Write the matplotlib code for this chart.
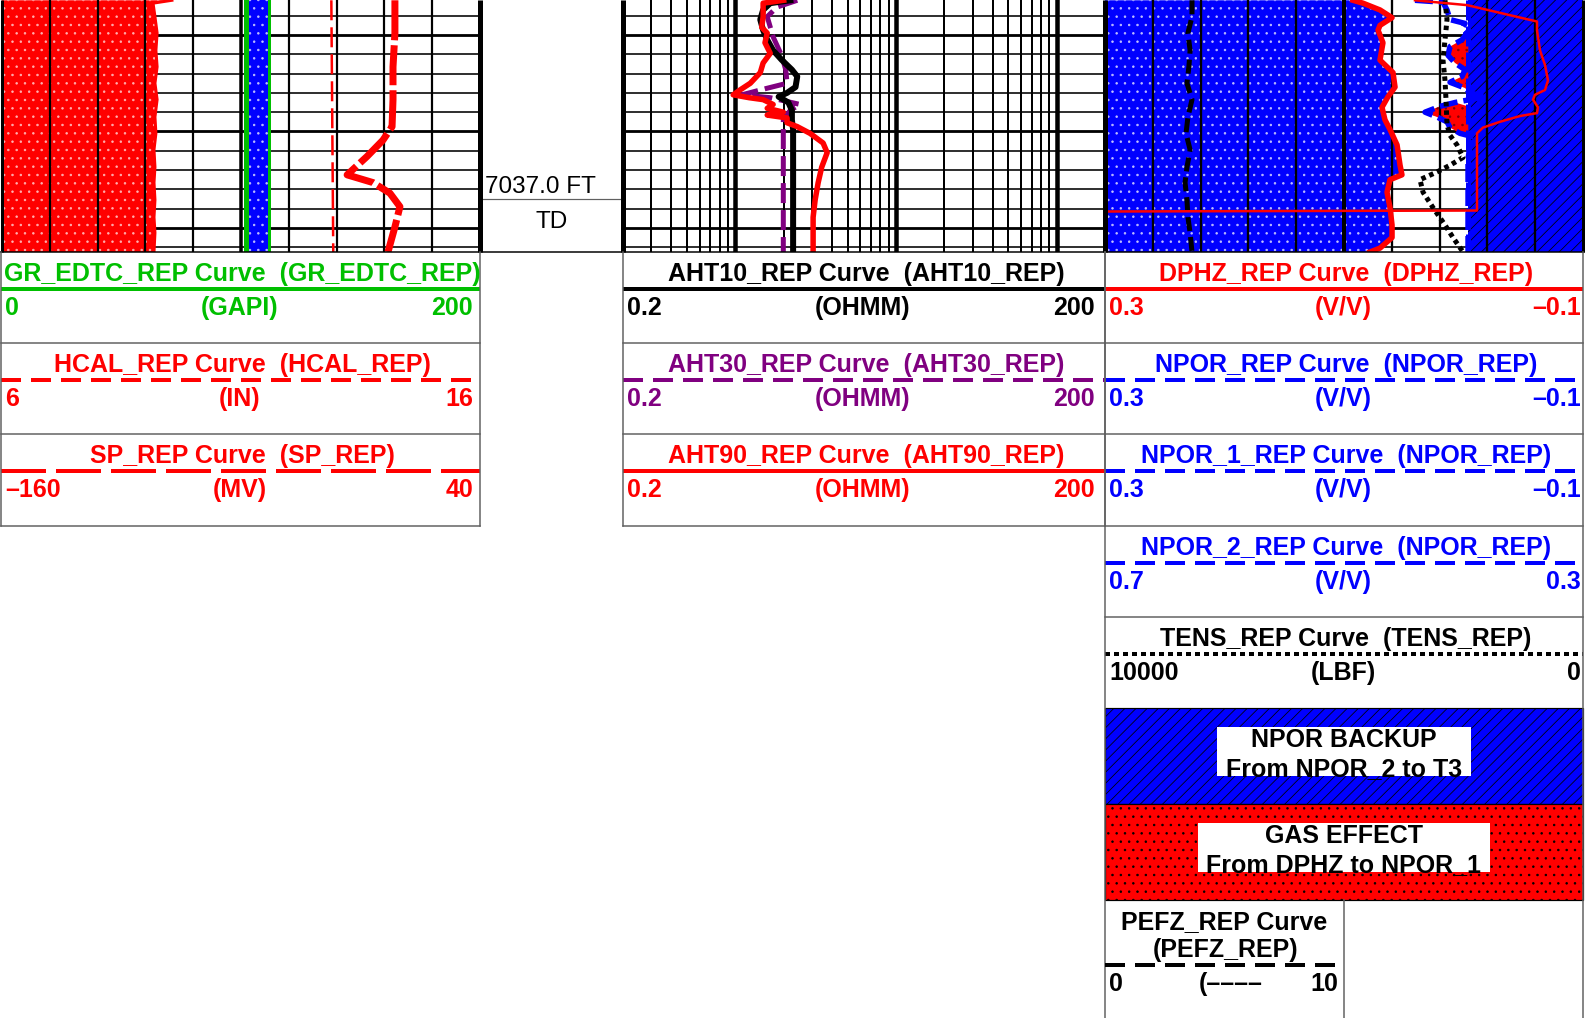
import matplotlib.pyplot as plt
from matplotlib.patches import Rectangle
import numpy as np

plt.rcParams['font.family'] = ['Liberation Sans', 'DejaVu Sans']
plt.rcParams['lines.scale_dashes'] = False
plt.rcParams['hatch.linewidth'] = 0.55

W, H = 1596, 1018
TOP, BOT = 7016.37, 7042.5
TD = 7037.0

GREEN = '#00bf00'
RED = '#ff0000'
BLUE = '#0000ff'
PURPLE = '#800080'
GREY = '#606060'

# ---------------- track 1 (GR scale 0-200) ----------------
shade_depth = [7016.4, 7016.7, 7018.1, 7019.8, 7021.6, 7023.3, 7025.0, 7026.7, 7028.5,
               7030.2, 7031.9, 7033.7, 7035.3, 7037.1, 7038.9, 7040.5, 7042.5]
shade_gr = [71.1, 63.2, 64.0, 64.9, 64.4, 64.9, 64.0, 64.9, 64.0,
            64.4, 63.6, 64.0, 63.6, 64.0, 63.6, 64.0, 63.6]

gr_depth = [7016.4, 7042.5]
gr = [102.0, 102.0]
gr_base = [111.7, 111.7]

hcal_depth = [7016.4, 7042.5]
hcal = [12.89, 12.93]

sp_depth = [7016.4, 7019.8, 7023.3, 7026.7, 7029.5, 7030.9, 7032.6, 7034.5, 7035.3,
            7036.4, 7037.8, 7039.9, 7042.5]
sp = [4.4, 4.4, 3.6, 3.6, 3.2, -0.6, -7.3, -15.6, -4.8, 2.3, 6.5, 4.4, 1.5]

# ---------------- track 2 (resistivity, log 0.2-200) ----------------
aht10_depth = [7016.4, 7016.7, 7017.4, 7018.4, 7019.5, 7020.5, 7021.6, 7022.6, 7023.6,
               7024.3, 7025.4, 7026.0, 7026.4, 7027.0, 7027.8, 7028.8, 7029.8, 7042.5]
aht10 = [2.20, 1.65, 1.49, 1.43, 1.49, 1.58, 1.72, 1.95, 2.25,
         2.43, 2.37, 2.10, 1.86, 2.14, 2.25, 2.25, 2.29, 2.29]

aht30_depth = [7016.4, 7017.1, 7018.1, 7020.2, 7022.1, 7023.6, 7025.0, 7025.7, 7026.2,
               7026.5, 7027.2, 7027.8, 7028.8, 7029.8, 7042.5]
aht30 = [2.43, 1.82, 1.58, 1.72, 1.94, 2.06, 2.10, 1.43, 1.10,
         1.65, 2.53, 2.20, 1.99, 1.99, 1.99]

aht90_depth = [7016.4, 7016.7, 7017.4, 7018.1, 7019.2, 7019.8, 7020.8, 7021.9, 7022.9,
               7023.9, 7025.0, 7025.7, 7026.2, 7026.5, 7026.7, 7027.2, 7027.6, 7028.0,
               7028.3, 7028.6, 7029.1, 7029.5, 7030.2, 7031.2, 7032.2, 7033.7, 7035.3,
               7037.1, 7038.9, 7042.5]
aht90 = [2.00, 1.49, 1.49, 1.49, 1.46, 1.58, 1.53, 1.65, 1.49,
         1.43, 1.24, 1.07, 0.97, 1.22, 1.49, 1.72, 1.58, 1.99,
         1.58, 2.10, 2.10, 2.43, 2.92, 3.52, 3.73, 3.45, 3.28,
         3.14, 3.05, 3.05]

# ---------------- track 3 (porosity 0.3 to -0.1) ----------------
dphz_depth = [7016.4, 7016.7, 7017.4, 7018.2, 7019.0, 7019.5, 7020.8, 7022.6, 7023.9,
              7025.4, 7026.4, 7027.5, 7028.8, 7029.8, 7031.4, 7033.5, 7034.5, 7035.0,
              7036.3, 7037.9, 7039.7, 7041.0, 7042.1, 7042.5]
dphz = [0.0925, 0.0841, 0.0699, 0.0598, 0.0699, 0.0715, 0.0674, 0.0699, 0.0590,
        0.0573, 0.0632, 0.0682, 0.0657, 0.0615, 0.0556, 0.0531, 0.0515, 0.0615,
        0.0640, 0.0615, 0.0598, 0.0598, 0.0699, 0.0782]

npor1_depth = [7016.4, 7016.6, 7017.4, 7018.4, 7018.8, 7019.3, 7019.8, 7020.5, 7021.2,
               7022.1, 7022.9, 7023.6, 7024.3, 7024.9, 7025.5, 7026.0, 7026.4, 7027.0,
               7027.4, 7028.0, 7028.5, 7029.0, 7029.6, 7030.2, 7030.6, 7031.4, 7032.9,
               7042.5]
npor1 = [0.0406, 0.0172, 0.0138, 0.0113, -0.0013, 0.0013, -0.0029, 0.0013, 0.0113,
         0.0130, 0.0071, -0.0013, 0.0013, 0.0113, -0.0013, -0.0054, -0.0180, 0.0071,
         0.0197, 0.0322, 0.0222, 0.0138, 0.0113, 0.0029, -0.0096, -0.0054, -0.0038,
         -0.0038]
gas_flag = [False, False, False, False, False, False, False, True, True,
            True, True, True, True, True, True, False, False, False,
            True, True, True, True, True, True, False, False, False,
            False]

npor2_depth = [7016.4, 7042.5]
npor2 = [0.396, 0.396]

tens_depth = [7016.4, 7018.4, 7020.5, 7022.6, 7024.7, 7026.7, 7029.3, 7030.4, 7031.4,
              7032.7, 7033.5, 7034.2, 7035.0, 7036.3, 7037.9, 7039.7, 7041.0, 7042.5]
tens = [2887, 2845, 2887, 2929, 2887, 2866, 2845, 2782, 2636,
        2510, 2782, 3054, 3410, 3347, 3138, 2887, 2720, 2510]

pefz_depth = [7016.4, 7018.1, 7019.8, 7021.6, 7023.3, 7025.0, 7026.7, 7028.5, 7030.2,
              7031.9, 7033.7, 7035.3, 7037.1, 7038.9, 7040.5, 7042.5]
pefz = [3.64, 3.64, 3.47, 3.56, 3.51, 3.43, 3.64, 3.47, 3.39,
        3.56, 3.43, 3.35, 3.43, 3.47, 3.56, 3.64]

red_thin_depth = [7016.4, 7016.9, 7018.6, 7019.5, 7021.6, 7023.1, 7024.7, 7025.7, 7026.2,
                  7026.7, 7027.5, 7028.1, 7028.4, 7029.0, 7029.6, 7030.2, 7038.2, 7038.3,
                  7042.5]
red_thin = [0.0406, -0.0029, -0.0615, -0.0615, -0.0640, -0.0682, -0.0707, -0.0682, -0.0598,
            -0.0582, -0.0623, -0.0615, -0.0473, -0.0305, -0.0163, -0.0113, -0.0113, 0.3,
            0.3]

# ---------------- header text ----------------
hdr_track1 = [
    ("GR_EDTC_REP Curve  (GR_EDTC_REP)", "0", "(GAPI)", "200", GREEN, 'solid'),
    ("HCAL_REP Curve  (HCAL_REP)", "6", "(IN)", "16", RED, 'dash'),
    ("SP_REP Curve  (SP_REP)", "\u2013160", "(MV)", "40", RED, 'longdash'),
]
hdr_track2 = [
    ("AHT10_REP Curve  (AHT10_REP)", "0.2", "(OHMM)", "200", 'black', 'solid'),
    ("AHT30_REP Curve  (AHT30_REP)", "0.2", "(OHMM)", "200", PURPLE, 'dash'),
    ("AHT90_REP Curve  (AHT90_REP)", "0.2", "(OHMM)", "200", RED, 'solid'),
]
hdr_track3 = [
    ("DPHZ_REP Curve  (DPHZ_REP)", "0.3", "(V/V)", "\u20130.1", RED, 'solid'),
    ("NPOR_REP Curve  (NPOR_REP)", "0.3", "(V/V)", "\u20130.1", BLUE, 'dash'),
    ("NPOR_1_REP Curve  (NPOR_REP)", "0.3", "(V/V)", "\u20130.1", BLUE, 'dash'),
    ("NPOR_2_REP Curve  (NPOR_REP)", "0.7", "(V/V)", "0.3", BLUE, 'dash'),
    ("TENS_REP Curve  (TENS_REP)", "10000", "(LBF)", "0", 'black', 'dot'),
]


def px(v):
    return v * 0.72


def rescale(vals, lo, hi, new_lo, new_hi):
    vals = np.asarray(vals, dtype=float)
    return new_lo + (vals - lo) / (hi - lo) * (new_hi - new_lo)


STYLES = {'solid': None, 'dash': (20, 10), 'longdash': (45, 10), 'dot': (5, 4)}

fig = plt.figure(figsize=(W / 100, H / 100), dpi=100)


def add_px_axes(x0, y0, x1, y1, **kw):
    return fig.add_axes([x0 / W, 1 - y1 / H, (x1 - x0) / W, (y1 - y0) / H], **kw)


ax1 = add_px_axes(2, 0, 480, 252)
axd = add_px_axes(480, 0, 623, 252)
ax2 = add_px_axes(623, 0, 1105, 252)
ax3 = add_px_axes(1105, 0, 1583, 252)

ax2.set_xscale('log')
ax1.set_xlim(0, 200)
axd.set_xlim(0, 1)
ax2.set_xlim(0.2, 200)
ax3.set_xlim(0.3, -0.1)
for ax in (ax1, axd, ax2, ax3):
    ax.set_ylim(BOT, TOP)
    ax.tick_params(which='both', bottom=False, left=False, labelbottom=False, labelleft=False)
    for s in ax.spines.values():
        s.set_visible(False)

# depth grid
for ax in (ax1, ax2, ax3):
    for d in range(7018, 7043, 2):
        major = d % 10 == 0
        ax.axhline(d, color='black', lw=px(2.8 if major else 1.6), zorder=1)

# vertical grids
for g in range(20, 200, 20):
    ax1.axvline(g, color='black', lw=px(3.5 if g == 100 else 2.2), zorder=3)
for dec in (0.1, 1, 10, 100):
    for m in range(2, 10):
        v = dec * m
        if 0.2 < v < 200:
            ax2.axvline(v, color='black', lw=px(2.0), zorder=3)
for v in (1, 10, 100):
    ax2.axvline(v, color='black', lw=px(4.5), zorder=3)
for k in range(1, 10):
    v = 0.3 - 0.04 * k
    ax3.axvline(v, color='black', lw=px(4 if k == 5 else 2.3), zorder=3)

# track 1 curves
ax1.fill_betweenx(shade_depth, 0, shade_gr, facecolor=RED, edgecolor='#ffb0b0',
                  hatch='..', linewidth=0, zorder=2)
ax1.plot(shade_gr, shade_depth, color=RED, lw=px(3), zorder=4)
ax1.fill_betweenx(gr_depth, gr, gr_base, facecolor=BLUE, edgecolor='#c0c0ff',
                  hatch='..', linewidth=0, zorder=2)
ax1.plot(gr, gr_depth, color=GREEN, lw=px(5), zorder=4)
ax1.plot(gr_base, gr_depth, color=GREEN, lw=px(3), zorder=4)
ax1.plot(rescale(hcal, 6, 16, 0, 200), hcal_depth, color=RED, lw=px(2.5),
         dashes=(px(20), px(7)), zorder=4)
ax1.plot(rescale(sp, -160, 40, 0, 200), sp_depth, color=RED, lw=px(7),
         dashes=(px(40), px(5)), zorder=5)

# track 2 curves
ax2.plot(aht30, aht30_depth, color=PURPLE, lw=px(5), dashes=(px(20), px(7)), zorder=4)
ax2.plot(aht10, aht10_depth, color='black', lw=px(6), zorder=5)
ax2.plot(aht90, aht90_depth, color=RED, lw=px(5.5), zorder=6)

# track 3 curves and shading
ax3.fill_betweenx(dphz_depth, 0.3, dphz, facecolor=BLUE, edgecolor='#c0c0ff',
                  hatch='..', linewidth=0, zorder=2)
npor2_t = rescale(npor2, 0.7, 0.3, 0.3, -0.1)
ax3.fill_betweenx(npor2_depth, npor2_t, -0.1, facecolor=BLUE, edgecolor='black',
                  hatch='///', linewidth=0, zorder=2)
npor1_arr = np.asarray(npor1)
bound = np.interp(npor1_depth, npor2_depth, npor2_t)
ax3.fill_betweenx(npor1_depth, npor1_arr, bound,
                  where=np.asarray(gas_flag) & (npor1_arr > bound), interpolate=True,
                  facecolor=RED, edgecolor='#800000', hatch='..', linewidth=0, zorder=2.5)
ax3.plot(rescale(pefz, 0, 10, 0.3, 0.1), pefz_depth, color='black', lw=px(5),
         dashes=(px(14), px(6)), zorder=4)
ax3.plot(npor2_t, npor2_depth, color=BLUE, lw=px(5), dashes=(px(20), px(6)), zorder=4)
ax3.plot(dphz, dphz_depth, color=RED, lw=px(5.5), zorder=5)
ax3.plot(npor1_arr, npor1_depth, color=BLUE, lw=px(5.5), dashes=(px(18), px(6)), zorder=5)
ax3.plot(rescale(tens, 10000, 0, 0.3, -0.1), tens_depth, color='black', lw=px(5),
         dashes=(px(4.5), px(4)), zorder=6)
ax3.plot(red_thin, red_thin_depth, color=RED, lw=px(2.5), zorder=7)

# depth track
axd.axhline(TD, color=GREY, lw=px(1.2))
axd.annotate(f"{TD:.1f} FT", xy=(0, TD), xycoords=('axes fraction', 'data'),
             xytext=(5, 6), textcoords='offset pixels', va='baseline', ha='left',
             fontsize=17.5)
axd.annotate("TD", xy=(0.5, TD), xycoords=('axes fraction', 'data'),
             xytext=(0, -29), textcoords='offset pixels', va='baseline', ha='center',
             fontsize=17.5)

# ---------------- header overlay (pixel coordinates) ----------------
axh = fig.add_axes([0, 0, 1, 1], zorder=10)
axh.set_xlim(0, W)
axh.set_ylim(H, 0)
axh.axis('off')
axh.patch.set_alpha(0)

# track borders
for x, w in ((2, 3), (480, 5), (623, 5), (1105, 5), (1583, 3)):
    axh.plot([x, x], [0, 252], color='black', lw=px(w), solid_capstyle='butt')
axh.plot([0, 1584], [252, 252], color='black', lw=px(1.5))

TXT = dict(fontsize=18, fontweight='bold', va='baseline')


def header_row(x0, x1, top, spec, pad):
    title, lo, unit, hi, color, style = spec
    axh.text((x0 + x1) / 2 + 2, top + 29, title, color=color, ha='center', **TXT)
    kw = dict(color=color, lw=px(4), solid_capstyle='butt', dash_capstyle='butt')
    if STYLES[style] is not None:
        kw['dashes'] = tuple(px(v) for v in STYLES[style])
    axh.plot([x0, x1], [top + 37, top + 37], **kw)
    axh.text(x0 + 4, top + 63, lo, color=color, ha='left', **TXT)
    axh.text((x0 + x1) / 2 - 1, top + 63, unit, color=color, ha='center', **TXT)
    axh.text(x1 - pad, top + 63, hi, color=color, ha='right', **TXT)


row_tops = [252, 343, 434, 526, 617, 708]
for i, spec in enumerate(hdr_track1):
    header_row(1, 480, row_tops[i], spec, 7)
for i, spec in enumerate(hdr_track2):
    header_row(623, 1105, row_tops[i], spec, 10)
for i, spec in enumerate(hdr_track3):
    header_row(1105, 1583, row_tops[i], spec, 2)

for x0, x1 in ((1, 480), (623, 1105)):
    for t in row_tops[1:4]:
        axh.plot([x0, x1], [t, t], color=GREY, lw=px(1.5))
    axh.plot([x0, x0], [252, 526], color=GREY, lw=px(1.5))
    axh.plot([x1, x1], [252, 526], color=GREY, lw=px(1.5))
for t in row_tops[1:5]:
    axh.plot([1105, 1583], [t, t], color=GREY, lw=px(1.5))
axh.plot([1105, 1105], [252, 1018], color=GREY, lw=px(1.5))
axh.plot([1583, 1583], [252, 1018], color=GREY, lw=px(1.5))

# shading legend boxes
shade_boxes = [
    (708, BLUE, 'black', '///', (1217, 727, 1471, 776), "NPOR BACKUP", "From NPOR_2 to T3"),
    (804, RED, 'black', '..', (1198, 823, 1490, 872), "GAS EFFECT", "From DPHZ to NPOR_1"),
]
for top, fc, hc, hatch, (bx0, by0, bx1, by1), l1, l2 in shade_boxes:
    axh.add_patch(Rectangle((1105, top), 478, 96, facecolor=fc, edgecolor=hc,
                            hatch=hatch, lw=px(1.2)))
    box = Rectangle((bx0, by0), bx1 - bx0, by1 - by0, facecolor='white', edgecolor='none')
    axh.add_patch(box)
    axh.text(1344, by0 + 20, l1, color='black', ha='center', **TXT)
    t2 = axh.text(1344, by1, l2, color='black', ha='center', **TXT)
    t2.set_clip_path(box)

# PEFZ panel
axh.text(1224, 929, "PEFZ_REP Curve", color='black', ha='center', **TXT)
axh.text(1226, 957, "(PEFZ_REP)", color='black', ha='center', **TXT)
axh.plot([1105, 1344], [965, 965], color='black', lw=px(4),
         dashes=(px(20), px(10)), dash_capstyle='butt')
axh.text(1109, 991, "0", color='black', ha='left', **TXT)
axh.text(1231, 991, "(\u2013\u2013\u2013\u2013", color='black', ha='center', **TXT)
axh.text(1338, 991, "10", color='black', ha='right', **TXT)
axh.plot([1344, 1344], [900, 1018], color=GREY, lw=px(1.5))

fig.savefig('out.png', dpi=100)
